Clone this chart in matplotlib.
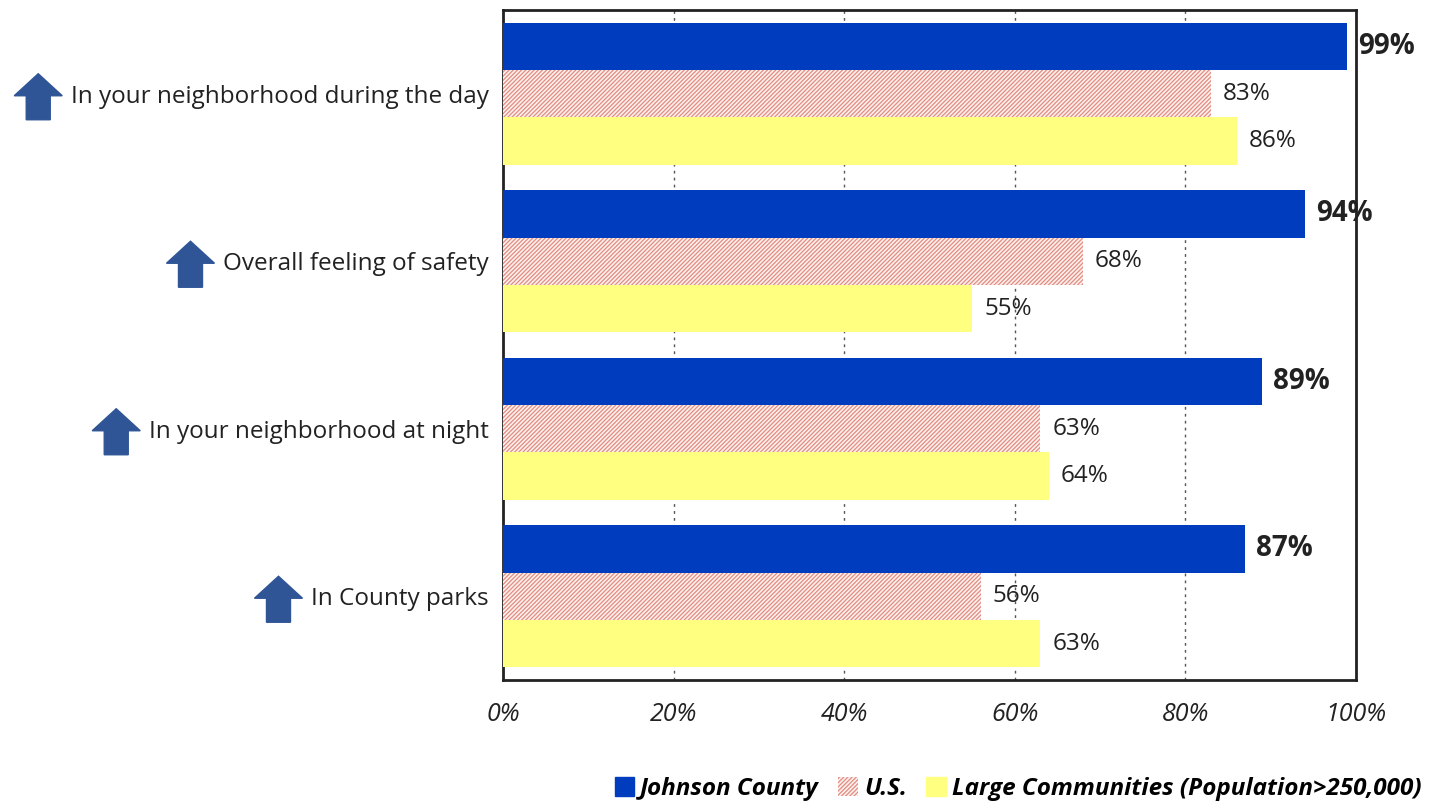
import matplotlib
matplotlib.use("Agg")
import matplotlib.pyplot as plt
from matplotlib.patches import Patch, Polygon
from matplotlib.transforms import IdentityTransform
import numpy as np

categories = ["In your neighborhood during the day", "Overall feeling of safety",
              "In your neighborhood at night", "In County parks"]
johnson = [99, 94, 89, 87]
us = [83, 68, 63, 56]
large = [86, 55, 64, 63]
series_names = ["Johnson County", "U.S.", "Large Communities (Population>250,000)"]
xticks = [0, 20, 40, 60, 80, 100]

BLUE = "#003DBE"
HATCH = "#E28C80"
YELLOW = "#FFFF80"
ARROW = "#2F5597"
TXT = "#222222"

plt.rcParams["hatch.linewidth"] = 0.9
plt.rcParams["font.family"] = ["Open Sans", "DejaVu Sans"]

fig = plt.figure(figsize=(14.55, 8.02), dpi=100)
ax = fig.add_axes([503/1455, 1-680/802, (1356-503)/1455, 670/802])

y = np.arange(len(categories))
h = 0.283
ax.barh(y - h, johnson, height=h, color=BLUE, zorder=3)
ax.barh(y, us, height=h, color="#FDF0EE", edgecolor=HATCH, hatch="////////", linewidth=0, zorder=3)
ax.barh(y + h, large, height=h, color=YELLOW, zorder=3)

for i in range(len(categories)):
    ax.text(johnson[i] + 1.3, y[i] - h, f"{johnson[i]}%", va="center", ha="left",
            fontsize=20, fontweight="bold", color=TXT)
    ax.text(us[i] + 1.4, y[i], f"{us[i]}%", va="center", ha="left", fontsize=17.5, color=TXT)
    ax.text(large[i] + 1.4, y[i] + h, f"{large[i]}%", va="center", ha="left", fontsize=17.5, color=TXT)

ax.set_xlim(0, 100)
ax.set_ylim(len(categories) - 0.5, -0.5)
ax.set_xticks(xticks)
ax.set_xticklabels([f"{t}%" for t in xticks], fontsize=18, style="italic", color=TXT)
ax.set_yticks(y)
ax.set_yticklabels(categories, fontsize=17.5, color=TXT)
ax.tick_params(axis="both", length=0)
ax.tick_params(axis="x", pad=16)
ax.tick_params(axis="y", pad=10)
ax.xaxis.grid(True, linestyle=(0, (2, 3)), color="#555555", linewidth=1)
ax.set_axisbelow(True)
for s in ax.spines.values():
    s.set_linewidth(2)
    s.set_color("#222222")

handles = [Patch(facecolor=BLUE, edgecolor=BLUE),
           Patch(facecolor="#FDF0EE", edgecolor=HATCH, hatch="////////", linewidth=0),
           Patch(facecolor=YELLOW, edgecolor=YELLOW)]
fig.legend(handles, series_names, loc="lower right", bbox_to_anchor=(0.992, -0.026),
           ncol=3, frameon=False, handlelength=0.8, handleheight=0.8, handletextpad=0.25,
           columnspacing=0.8, prop={"size": 17.5, "weight": "bold", "style": "italic"})

# block arrows to the left of each category label
fig.canvas.draw()
renderer = fig.canvas.get_renderer()
for lbl in ax.get_yticklabels():
    bb = lbl.get_window_extent(renderer)
    cy = (bb.y0 + bb.y1) / 2
    right = bb.x0 - 9
    w, hh = 48, 46
    left = right - w
    top = cy + hh / 2
    bottom = cy - hh / 2
    neck = top - 22
    sw = 12
    cx = (left + right) / 2
    pts = [(cx, top), (right, neck), (cx + sw, neck), (cx + sw, bottom),
           (cx - sw, bottom), (cx - sw, neck), (left, neck)]
    fig.patches.append(Polygon(pts, closed=True, facecolor=ARROW, edgecolor=ARROW,
                               transform=IdentityTransform(), figure=fig))

fig.savefig("out.png", dpi=100)
